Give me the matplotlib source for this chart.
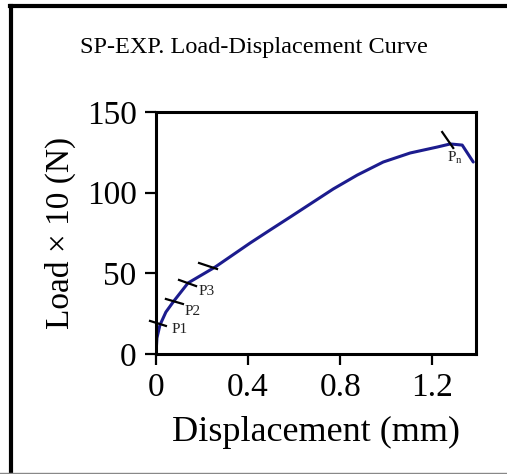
import matplotlib
matplotlib.use("Agg")
import matplotlib.pyplot as plt
from matplotlib.lines import Line2D

plt.rcParams['font.family'] = ['Liberation Serif', 'DejaVu Serif']
plt.rcParams['mathtext.fontset'] = 'stix'

# Curve data (displacement mm, load x10 N)
disp = [0.0, 0.004, 0.017, 0.043, 0.078, 0.139, 0.257, 0.409, 0.496, 0.583,
        0.670, 0.770, 0.874, 0.987, 1.104, 1.222, 1.278, 1.330, 1.378]
load = [0.0, 9.9, 17.9, 26.0, 32.9, 44.0, 53.9, 68.8, 76.9, 84.9,
        93.0, 102.3, 110.9, 119.0, 124.6, 128.3, 130.2, 129.5, 119.0]

# Marker segments across the curve (x0, y0, x1, y1)
mark_x0 = [-0.026, 0.043, 0.100, 0.187, 1.243]
mark_y0 = [20.5, 34.1, 45.9, 56.4, 137.6]
mark_x1 = [0.043, 0.117, 0.174, 0.265, 1.291]
mark_y1 = [17.4, 31.0, 42.1, 52.7, 127.7]

label_text = ['P1', 'P2', 'P3', r'P$_\mathregular{n}$']
label_x = [0.068, 0.125, 0.186, 1.262]
label_y = [15.0, 26.5, 38.5, 121.5]

xticks = [0, 0.4, 0.8, 1.2]
xticklabels = ['0', '0.4', '0.8', '1.2']
yticks = [0, 50, 100, 150]

fig = plt.figure(figsize=(5.07, 4.74), dpi=100)
ax = fig.add_axes([0.3077, 0.2532, 0.6312, 0.5105])

ax.plot(disp, load, color='#1c1c8e', lw=2.2, solid_joinstyle='round',
        solid_capstyle='round')
for x0, y0, x1, y1 in zip(mark_x0, mark_y0, mark_x1, mark_y1):
    ax.plot([x0, x1], [y0, y1], color='black', lw=1.6, clip_on=False)
for t, x, y in zip(label_text, label_x, label_y):
    ax.text(x, y, t, fontsize=11, color='#222222', ha='left', va='center')

ax.set_xlim(0, 1.39)
ax.set_ylim(0, 150)
ax.set_xticks(xticks)
ax.set_xticklabels(xticklabels)
ax.set_yticks(yticks)
for s in ax.spines.values():
    s.set_linewidth(2.2)
ax.tick_params(direction='out', length=8, width=1.6, labelsize=24, pad=5)
ax.tick_params(axis='y', pad=6)

ax.set_xlabel('Displacement (mm)', fontsize=26, labelpad=10)
ax.set_ylabel('Load × 10 (N)', fontsize=24, labelpad=8)

fig.text(0.5, 0.900, 'SP-EXP. Load-Displacement Curve', fontsize=17.5,
         ha='center', va='center')

# outer frame
fig.add_artist(Line2D([0.022, 0.022], [0.0, 0.988], transform=fig.transFigure,
                      color='black', lw=3))
fig.add_artist(Line2D([0.020, 1.0], [0.988, 0.988], transform=fig.transFigure,
                      color='black', lw=3))
fig.add_artist(Line2D([0.0, 1.0], [0.002, 0.002], transform=fig.transFigure,
                      color='#888888', lw=1))

fig.savefig('out.png', dpi=100)
